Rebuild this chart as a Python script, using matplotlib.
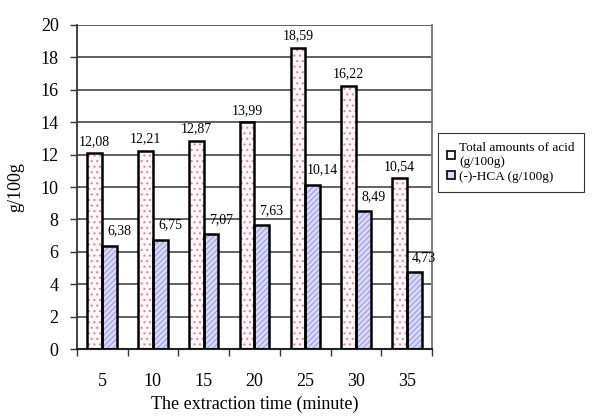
import numpy as np
import matplotlib.pyplot as plt
from matplotlib.patches import Patch

plt.rcParams['font.family'] = ['Liberation Serif', 'DejaVu Serif']
plt.rcParams['hatch.linewidth'] = 0.8

times = ['5', '10', '15', '20', '25', '30', '35']
total_acid = [12.08, 12.21, 12.87, 13.99, 18.59, 16.22, 10.54]
hca = [6.38, 6.75, 7.07, 7.63, 10.14, 8.49, 4.73]

pink_dots = '#d88a9c'
blue_fill = '#dadaf8'
blue_hatch = '#9a9ae8'


def fmt(v):
    return ('%.2f' % v).replace('.', ',')


fig = plt.figure(figsize=(5.96, 4.18), dpi=100)
ax = fig.add_axes([0.1287, 0.165, 0.5966, 0.7752])

x = np.arange(len(times))
w = 0.29

# first bar of each pair: white with red dots
ax.bar(x - w / 2, total_acid, width=w, color='#fdf6f8', edgecolor=pink_dots,
       hatch='...', linewidth=0, zorder=2)
ax.bar(x - w / 2, total_acid, width=w, fill=False, edgecolor='black',
       linewidth=1.8, zorder=3)
# second bar: light blue with diagonal hatch
ax.bar(x + w / 2, hca, width=w, color=blue_fill, edgecolor=blue_hatch,
       hatch='//////', linewidth=0, zorder=2)
ax.bar(x + w / 2, hca, width=w, fill=False, edgecolor='black',
       linewidth=1.8, zorder=3)

for xi, v in zip(x, total_acid):
    ax.annotate(fmt(v), (xi - w / 2, v), xytext=(0, 4), textcoords='offset points',
                ha='center', va='bottom', fontsize=10)
for xi, v in zip(x, hca):
    ax.annotate(fmt(v), (xi + w / 2, v), xytext=(7, 6), textcoords='offset points',
                ha='center', va='bottom', fontsize=10)

ax.set_xlim(-0.5, len(times) - 0.5)
ax.set_ylim(0, 20)
ax.set_yticks(np.arange(0, 21, 2))
ax.tick_params(axis='y', labelsize=13, length=5, width=1, pad=8, color='#333333')
ax.set_xticks(x)
ax.set_xticklabels(times)
ax.set_xticks(np.arange(-0.5, len(times), 1), minor=True)
ax.tick_params(axis='x', which='major', length=0, labelsize=13, pad=17)
ax.tick_params(axis='x', which='minor', length=5, width=1, color='#333333')

ax.yaxis.grid(True, color='#555555', linewidth=1.3, zorder=0)
ax.set_axisbelow(True)
ax.spines['top'].set_visible(False)
ax.spines['right'].set_color('#777777')
ax.spines['right'].set_linewidth(1.3)
ax.spines['left'].set_color('#333333')
ax.spines['left'].set_linewidth(1.3)
ax.spines['bottom'].set_color('#222222')
ax.spines['bottom'].set_linewidth(1.5)

ax.set_xlabel('The extraction time (minute)', fontsize=13, labelpad=4)
ax.set_ylabel('g/100g', fontsize=13, labelpad=12)

handles = [Patch(facecolor='white', edgecolor='black', linewidth=1.2),
           Patch(facecolor=blue_fill, edgecolor='black', linewidth=1.2)]
leg = fig.legend(handles, ['Total amounts of acid\n(g/100g)', '(-)-HCA (g/100g)'],
                 loc='upper left', bbox_to_anchor=(438 / 596, 1 - 133 / 418),
                 fontsize=9.5, frameon=True, fancybox=False, borderpad=0.7,
                 handlelength=0.6, handleheight=0.6, handletextpad=0.3,
                 labelspacing=0.2, borderaxespad=0)
leg.get_frame().set_edgecolor('black')
leg.get_frame().set_linewidth(0.8)

fig.savefig('out.png', dpi=100)
